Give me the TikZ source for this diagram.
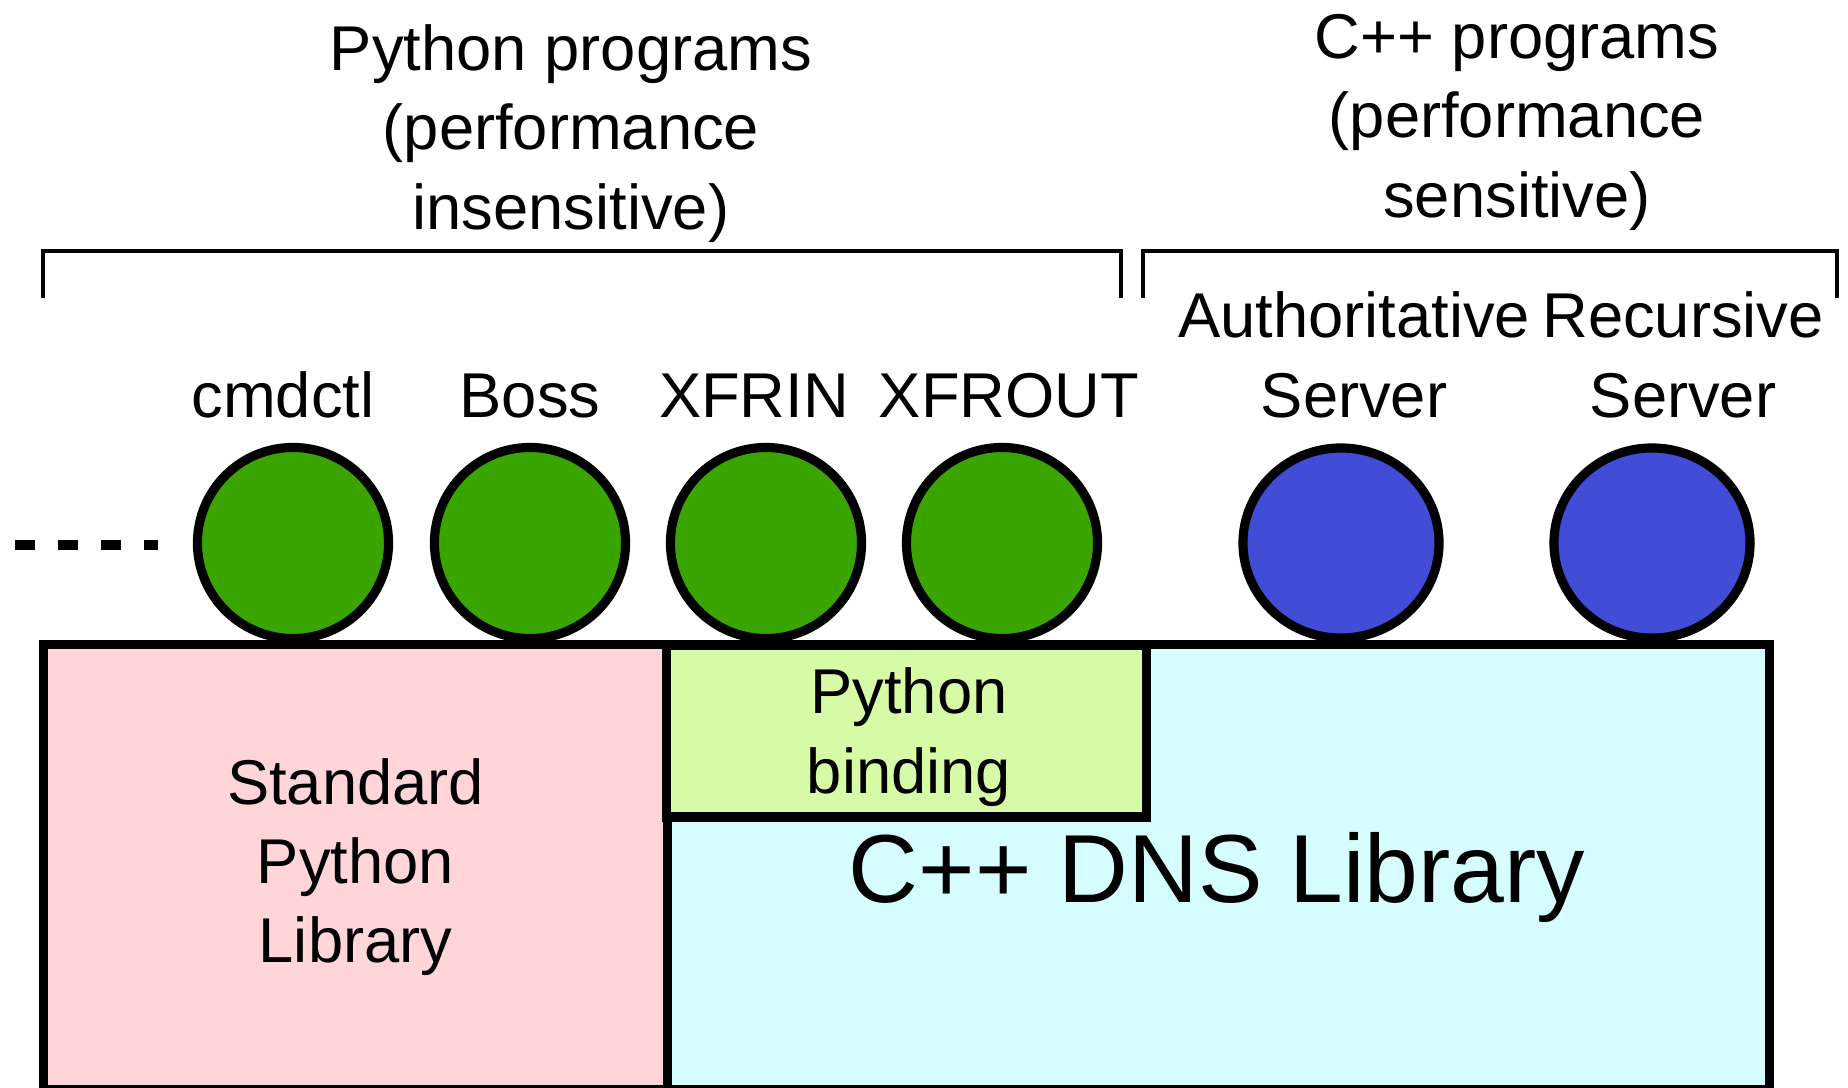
\documentclass[tikz,border=0pt]{standalone}
\usepackage{fontspec}
\setmainfont{Liberation Sans}
\usetikzlibrary{shapes.geometric}

\definecolor{pygreen}{RGB}{58,165,0}
\definecolor{cxxblue}{RGB}{65,77,214}
\definecolor{libpink}{RGB}{255,213,216}
\definecolor{bindgreen}{RGB}{214,250,166}
\definecolor{libcyan}{RGB}{213,252,255}

\begin{document}
\begin{tikzpicture}[
    x=0.01cm, y=-0.01cm,
    txt/.style={align=center, inner sep=0pt, font=\fontsize{18}{22.5}\selectfont},
    pyproc/.style={draw, circle, line width=2.6pt, fill=pygreen, minimum size=1.91cm, inner sep=0pt},
    cxxproc/.style={draw, ellipse, line width=2.6pt, fill=cxxblue, minimum width=1.96cm,
                    minimum height=1.9cm, inner sep=0pt},
    libbox/.style={draw, rectangle, line width=2.6pt, inner sep=0pt, align=center,
                   font=\fontsize{18}{22.5}\selectfont},
    brk/.style={line width=1pt},
    elided/.style={line width=2.8pt, dash pattern=on 0.2cm off 0.23cm},
]
\useasboundingbox (0,0) rectangle (1848,1087);

% Group headings (base = last line)
\node[txt, anchor=base] (pyhead) at (571,229) {Python programs\\(performance\\insensitive)};
\node[txt, anchor=base] (cxxhead) at (1517,217) {C++ programs\\(performance\\sensitive)};

% Brackets under the headings
\draw[brk] (43,298) |- (1121,251) -- (1121,298);
\draw[brk] (1143,298) |- (1837,251) -- (1837,298);

% Python processes
\foreach \id/\txt/\cx/\lx in {cmdctl/cmdctl/293/283, boss/Boss/530/530,
                              xfrin/XFRIN/766/754, xfrout/XFROUT/1002/1009} {
    \node[pyproc] (\id) at (\cx,543) {};
    \node[txt, anchor=base] (\id-lbl) at (\lx,417) {\txt};
}

% C++ processes
\node[cxxproc] (auth) at (1341,543) {};
\node[cxxproc] (recurse) at (1652,543) {};
\node[txt, anchor=base] (auth-lbl) at (1354,417) {Authoritative\\Server};
\node[txt, anchor=base] (recurse-lbl) at (1683,417) {Recursive\\Server};

% More processes to the left
\coordinate (moreL) at (15,545);
\coordinate (moreR) at (158,545);
\draw[elided] (moreL) -- (moreR);

% Libraries
\node[libbox, fill=libcyan, minimum width=11.02cm, minimum height=4.44cm] (cxxlib) at (1218,867) {};
\node[libbox, fill=libpink, minimum width=6.23cm, minimum height=4.44cm] (pylib) at (355.5,867)
    {Standard\\Python\\Library};
\node[libbox, fill=bindgreen, minimum width=4.79cm, minimum height=1.72cm] (binding) at (906.5,731) {};
\node[txt, anchor=base] (binding-lbl) at (909,793) {Python\\binding};
\node[inner sep=0pt, anchor=base, font=\fontsize{27.5}{33}\selectfont] (cxxlib-lbl) at (1217,902)
    {C++ DNS Library};
\end{tikzpicture}
\end{document}
